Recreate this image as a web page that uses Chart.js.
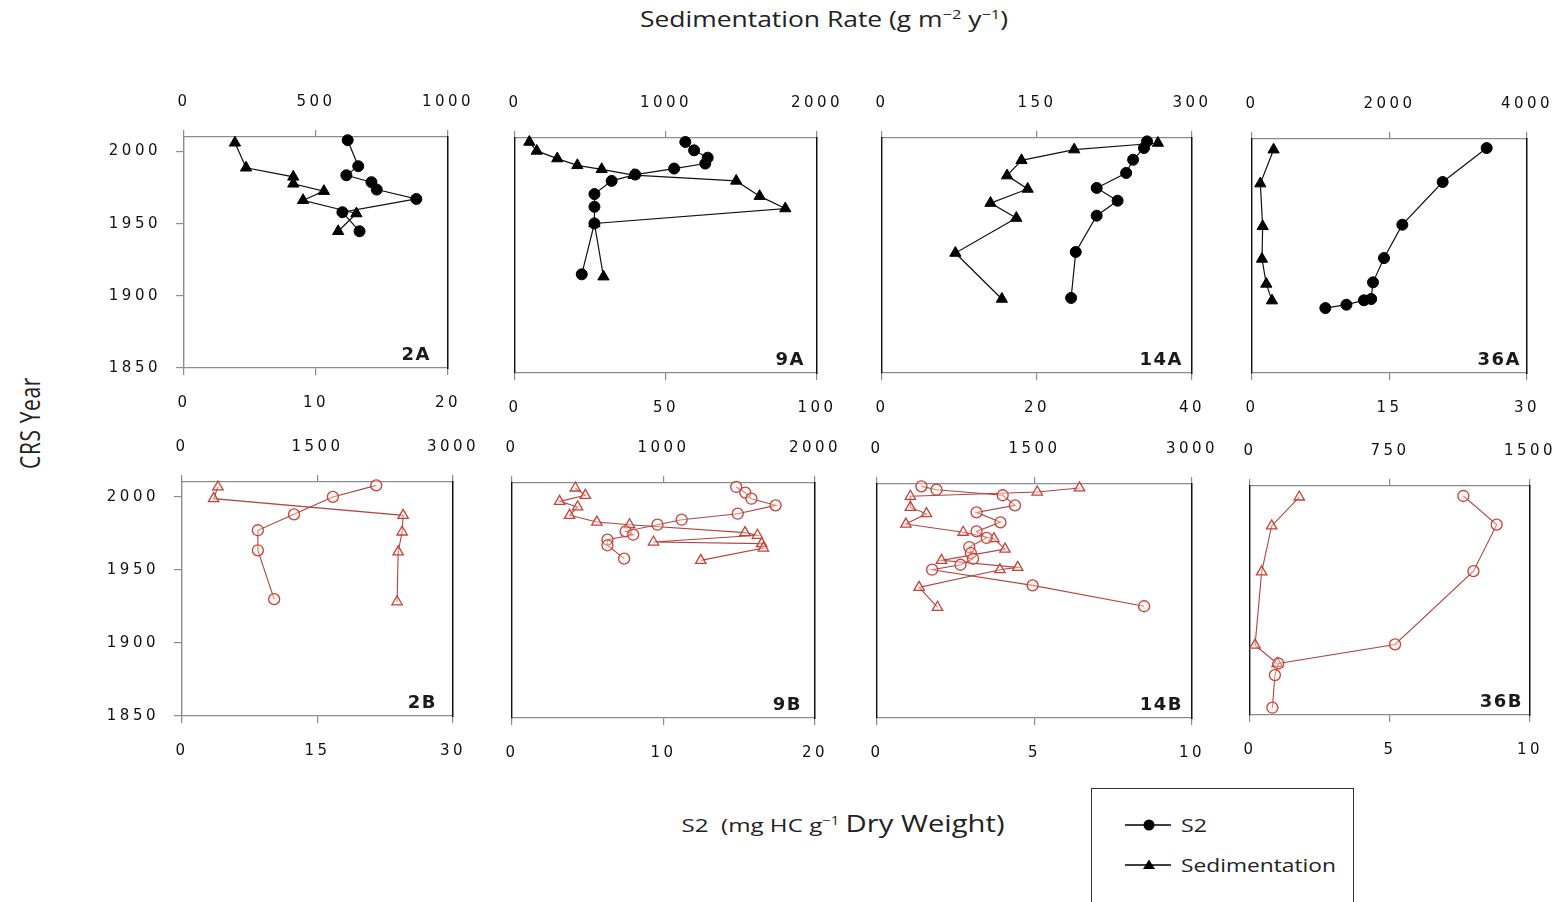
<!DOCTYPE html>
<html lang="en">
<head>
<meta charset="UTF-8">
<title>S2 and Sedimentation Rate by CRS Year</title>
<script src="https://cdn.jsdelivr.net/npm/chart.js@4.4.0/dist/chart.umd.min.js"></script>
<style>
  body { margin: 0; background: #fff; }
  #fig { position: relative; width: 1566px; height: 902px; overflow: hidden; background: #fff; }
  .ttl { position: absolute; white-space: nowrap; font-family: 'Open Sans', sans-serif; color: #222; line-height: 1; }
  .ttl sup { font-size: 0.62em; vertical-align: 0.6em; line-height: 0; }
  #sedTitle { left: 824px; top: 9px; font-size: 21px; transform: translateX(-50%); }
  #s2Title { left: 843px; top: 812px; font-size: 19px; transform: translateX(-50%); }
  #s2Title .big { font-size: 23px; }
  #yearTitle { left: 30px; top: 423px; font-size: 21px; letter-spacing: 0.6px; transform: translate(-50%, -50%) rotate(-90deg) scaleY(1.3); }
  #legend { position: absolute; left: 1091px; top: 788px; width: 261px; height: 140px; border: 1.5px solid #333; }
  #legend .item { position: absolute; left: 32px; height: 22px; display: flex; align-items: center; }
  #legend span { display: inline-block; transform-origin: left center; font-family: 'Open Sans', sans-serif; font-size: 19px; color: #222; margin-left: 9px; }
  canvas { position: absolute; }
</style>
</head>
<body>
<div id="fig">
  <div id="sedTitle" class="ttl" data-w="368" data-pre="translateX(-50%)">Sedimentation Rate (g m<sup>−2</sup> y<sup>−1</sup>)</div>
  <div id="yearTitle" class="ttl">CRS Year</div>
  <div id="s2Title" class="ttl" data-w="323" data-pre="translateX(-50%)">S2&nbsp; (mg HC g<sup>−1</sup> <span class="big">Dry Weight)</span></div>
  <div id="legend">
    <div class="item" style="top:25px">
      <svg width="48" height="16"><line x1="1" y1="8" x2="47" y2="8" stroke="#000" stroke-width="1.4"/><circle cx="25" cy="8" r="5.5" fill="#000"/></svg>
      <span data-w="26">S2</span>
    </div>
    <div class="item" style="top:65px">
      <svg width="48" height="16"><line x1="1" y1="8" x2="47" y2="8" stroke="#000" stroke-width="1.4"/><polygon points="25,2.5 31,12 19,12" fill="#000"/></svg>
      <span data-w="155">Sedimentation</span>
    </div>
  </div>
</div>

<script>
// ---- data: CRS year vs S2 (bottom axis) and sedimentation rate (top axis) ----
const yearTicks = [1850, 1900, 1950, 2000];
const YEAR_MIN = 1850, YEAR_MAX = 2010;

// core 2A
const s2Year_2A = [2007.8, 1989.8, 1983.5, 1978.7, 1973.6, 1967.1, 1957.9, 1944.7];
const s2_2A = [12.4, 13.2, 12.3, 14.2, 14.6, 17.6, 12.0, 13.3];
const sedYear_2A = [2006.0, 1988.7, 1982.4, 1977.6, 1972.5, 1966.2, 1957.0, 1944.7];
const sed_2A = [193, 235, 414, 414, 530, 451, 653, 584];
const s2Ticks_2A = [0, 10, 20];
const sedTicks_2A = [0, 500, 1000];

// core 9A
const s2Year_9A = [2007.3, 2001.6, 1996.6, 1992.6, 1989.2, 1985.1, 1980.8, 1971.8, 1963.2, 1951.8, 1917.2];
const s2_9A = [56.4, 59.3, 63.8, 63.0, 52.7, 39.8, 32.0, 26.3, 26.3, 26.3, 22.1];
const sedYear_9A = [2007.3, 2001.2, 1996.0, 1991.4, 1988.7, 1984.7, 1980.8, 1970.4, 1962.0, 1951.8, 1915.6];
const sed_9A = [95, 144, 280, 413, 574, 785, 1465, 1620, 1790, 526, 586];
const s2Ticks_9A = [0, 50, 100];
const sedTicks_9A = [0, 1000, 2000];

// core 14A
const s2Year_14A = [2007.7, 2003.2, 1995.2, 1986.2, 1976.0, 1967.3, 1957.1, 1932.4, 1901.1];
const s2_14A = [34.2, 33.8, 32.4, 31.5, 27.7, 30.4, 27.7, 25.0, 24.4];
const sedYear_14A = [2006.6, 2002.1, 1994.8, 1984.4, 1975.3, 1965.7, 1955.5, 1931.7, 1900.4];
const sed_14A = [267, 186, 135, 121, 141, 105, 130, 71, 116];
const s2Ticks_14A = [0, 20, 40];
const sedTicks_14A = [0, 150, 300];

// core 36A
const s2Year_36A = [2003.8, 1980.6, 1951.4, 1928.6, 1912.0, 1900.6, 1899.7, 1896.7, 1894.4];
const s2_36A = [25.6, 20.8, 16.4, 14.4, 13.2, 13.0, 12.2, 10.3, 8.0];
const sedYear_36A = [2002.7, 1979.5, 1950.3, 1928.0, 1910.9, 1899.5];
const sed_36A = [314, 121, 155, 145, 208, 290];
const s2Ticks_36A = [0, 15, 30];
const sedTicks_36A = [0, 2000, 4000];

// core 2B
const s2Year_2B = [2007.7, 1999.8, 1987.9, 1977.0, 1963.3, 1929.9];
const s2_2B = [21.5, 16.7, 12.4, 8.4, 8.4, 10.2];
const sedYear_2B = [2006.6, 1998.6, 1987.2, 1975.8, 1962.2, 1928.1];
const sed_2B = [398, 350, 2448, 2437, 2393, 2381];
const s2Ticks_2B = [0, 15, 30];
const sedTicks_2B = [0, 1500, 3000];

// core 9B
const s2Year_9B = [2007.3, 2003.4, 1999.3, 1994.8, 1989.1, 1985.0, 1981.6, 1977.1, 1974.8, 1971.4, 1967.6, 1958.5];
const s2_9B = [14.8, 15.4, 15.8, 17.4, 14.9, 11.2, 9.6, 7.5, 8.0, 6.3, 6.3, 7.4];
const sedYear_9B = [2006.6, 2001.6, 1997.5, 1993.7, 1988.0, 1983.4, 1981.6, 1976.2, 1974.4, 1969.8, 1968.7, 1965.7, 1957.3];
const sed_9B = [418, 484, 314, 433, 380, 560, 776, 1538, 1620, 934, 1648, 1659, 1246];
const s2Ticks_9B = [0, 10, 20];
const sedTicks_9B = [0, 1000, 2000];

// core 14B
const s2Year_14B = [2008.4, 2006.1, 2002.3, 1995.4, 1990.6, 1983.8, 1977.6, 1973.1, 1966.9, 1962.8, 1958.9, 1954.8, 1951.4, 1940.7, 1926.4];
const s2_14B = [1.41, 1.89, 3.99, 4.38, 3.16, 3.92, 3.16, 3.48, 2.93, 2.98, 3.05, 2.65, 1.75, 4.94, 8.48];
const sedYear_14B = [2007.3, 2004.5, 2001.6, 1994.0, 1989.7, 1982.6, 1977.0, 1972.6, 1965.5, 1957.8, 1953.0, 1951.4, 1939.3, 1925.7];
const sed_14B = [1928, 1526, 318, 318, 471, 275, 821, 1113, 1219, 614, 1340, 1171, 401, 576];
const s2Ticks_14B = [0, 5, 10];
const sedTicks_14B = [0, 1500, 3000];

// core 36B
const s2Year_36B = [2003.0, 1983.0, 1950.5, 1899.3, 1886.0, 1877.9, 1855.1];
const s2_36B = [7.62, 8.81, 7.98, 5.18, 1.01, 0.89, 0.80];
const sedYear_36B = [2002.3, 1982.1, 1950.0, 1898.8, 1886.0];
const sed_36B = [264, 116, 62.5, 27, 146];
const s2Ticks_36B = [0, 5, 10];
const sedTicks_36B = [0, 750, 1500];

// ---- layout ----
const fig = document.getElementById('fig');
const PAD = { left: 80, top: 50, right: 40, bottom: 50 };
const GREY = '#8c8c8c';
const TICK_FONT = { family: '"DejaVu Sans", Verdana, sans-serif', size: 15 };
const TICK_COLOR = '#111';

// stretch the html titles to their widths
document.querySelectorAll('[data-w]').forEach(el => {
  const w = el.getBoundingClientRect().width;
  el.style.transform = (el.dataset.pre || '') + ' scaleX(' + (el.dataset.w / w).toFixed(3) + ')';
});

// plot rectangles [left, top, right, bottom] in page pixels
const panels = [
  { tag: '2A',  rect: [184, 137, 448, 368],   tagGap: 17, row: 'A', first: true,  s2: s2_2A,  s2Year: s2Year_2A,  sed: sed_2A,  sedYear: sedYear_2A,  s2Ticks: s2Ticks_2A,  sedTicks: sedTicks_2A },
  { tag: '9A',  rect: [515, 138, 817, 373],   tagGap: 12, row: 'A', first: false, s2: s2_9A,  s2Year: s2Year_9A,  sed: sed_9A,  sedYear: sedYear_9A,  s2Ticks: s2Ticks_9A,  sedTicks: sedTicks_9A },
  { tag: '14A', rect: [882, 138, 1192, 373],  tagGap: 9,  row: 'A', first: false, s2: s2_14A, s2Year: s2Year_14A, sed: sed_14A, sedYear: sedYear_14A, s2Ticks: s2Ticks_14A, sedTicks: sedTicks_14A },
  { tag: '36A', rect: [1252, 139, 1527, 373], tagGap: 6,  row: 'A', first: false, s2: s2_36A, s2Year: s2Year_36A, sed: sed_36A, sedYear: sedYear_36A, s2Ticks: s2Ticks_36A, sedTicks: sedTicks_36A },
  { tag: '2B',  rect: [182, 482, 453, 716],   tagGap: 16, row: 'B', first: true,  s2: s2_2B,  s2Year: s2Year_2B,  sed: sed_2B,  sedYear: sedYear_2B,  s2Ticks: s2Ticks_2B,  sedTicks: sedTicks_2B },
  { tag: '9B',  rect: [512, 483, 815, 718],   tagGap: 13, row: 'B', first: false, s2: s2_9B,  s2Year: s2Year_9B,  sed: sed_9B,  sedYear: sedYear_9B,  s2Ticks: s2Ticks_9B,  sedTicks: sedTicks_9B },
  { tag: '14B', rect: [877, 484, 1192, 718],  tagGap: 9,  row: 'B', first: false, s2: s2_14B, s2Year: s2Year_14B, sed: sed_14B, sedYear: sedYear_14B, s2Ticks: s2Ticks_14B, sedTicks: sedTicks_14B },
  { tag: '36B', rect: [1250, 486, 1530, 715], tagGap: 7,  row: 'B', first: false, s2: s2_36B, s2Year: s2Year_36B, sed: sed_36B, sedYear: sedYear_36B, s2Ticks: s2Ticks_36B, sedTicks: sedTicks_36B }
];

// row A: solid black markers; row B: open red markers
const rowStyle = {
  A: { line: '#111', lineWidth: 1.2,
       s2:  { style: 'circle',   radius: 5.5, fill: '#000', stroke: '#000', border: 1 },
       sed: { style: 'triangle', radius: 6.5, fill: '#000', stroke: '#000', border: 1 } },
  B: { line: '#b0463f', lineWidth: 1.1,
       s2:  { style: 'circle',   radius: 5.5, fill: 'rgba(255,235,230,0.4)', stroke: '#c2443a', border: 1.3 },
       sed: { style: 'triangle', radius: 6,   fill: 'rgba(255,235,230,0.4)', stroke: '#c2443a', border: 1.3 } }
};

// wide, letter-spaced tick labels
const wideTicks = {
  id: 'wideTicks',
  beforeDraw(chart) { chart.ctx.letterSpacing = '3.5px'; }
};

// panel name in the lower right corner of the plot
const panelTag = {
  id: 'panelTag',
  afterDraw(chart, args, opts) {
    const { ctx, chartArea } = chart;
    ctx.save();
    ctx.letterSpacing = '1.5px';
    ctx.font = 'bold 18px "DejaVu Sans", sans-serif';
    ctx.fillStyle = '#1a1a1a';
    ctx.textAlign = 'right';
    ctx.textBaseline = 'alphabetic';
    ctx.fillText(opts.text, chartArea.right - opts.gap, chartArea.bottom - 8);
    ctx.restore();
  }
};

function xAxis(position, ticks, size) {
  return {
    type: 'linear', position,
    min: ticks[0], max: ticks[ticks.length - 1],
    afterBuildTicks: s => { s.ticks = ticks.map(v => ({ value: v })); },
    afterFit: s => { s.height = size; },
    ticks: { font: TICK_FONT, color: TICK_COLOR, padding: 19, maxRotation: 0, autoSkip: false, callback: v => String(v) },
    grid: { drawOnChartArea: false, drawTicks: true, tickLength: 7, color: GREY, lineWidth: 1.2 },
    border: { color: GREY, width: 1.3 }
  };
}

function series(xs, ys, st, m, axis, label) {
  return {
    label, xAxisID: axis, yAxisID: 'y',
    data: xs.map((v, i) => ({ x: v, y: ys[i] })),
    showLine: true, borderColor: st.line, borderWidth: st.lineWidth,
    pointStyle: m.style, pointRadius: m.radius,
    pointBackgroundColor: m.fill, pointBorderColor: m.stroke, pointBorderWidth: m.border,
    clip: false
  };
}

function buildPanel(p) {
  const [l, t, r, b] = p.rect;
  const w = r - l + PAD.left + PAD.right;
  const h = b - t + PAD.top + PAD.bottom;
  const canvas = document.createElement('canvas');
  canvas.width = w;
  canvas.height = h;
  canvas.style.left = (l - PAD.left) + 'px';
  canvas.style.top = (t - PAD.top) + 'px';
  canvas.style.width = w + 'px';
  canvas.style.height = h + 'px';
  fig.appendChild(canvas);

  const st = rowStyle[p.row];
  new Chart(canvas, {
    type: 'scatter',
    data: {
      datasets: [
        series(p.s2, p.s2Year, st, st.s2, 'x', 'S2'),
        series(p.sed, p.sedYear, st, st.sed, 'xTop', 'Sedimentation')
      ]
    },
    options: {
      responsive: false,
      animation: false,
      events: [],
      layout: { padding: 0, autoPadding: false },
      plugins: {
        legend: { display: false },
        tooltip: { enabled: false },
        panelTag: { text: p.tag, gap: p.tagGap }
      },
      scales: {
        x: xAxis('bottom', p.s2Ticks, PAD.bottom),
        xTop: xAxis('top', p.sedTicks, PAD.top),
        y: {
          type: 'linear', position: 'left', min: YEAR_MIN, max: YEAR_MAX,
          afterBuildTicks: s => { s.ticks = yearTicks.map(v => ({ value: v })); },
          afterFit: s => { s.width = PAD.left; },
          ticks: { display: p.first, font: TICK_FONT, color: TICK_COLOR, padding: 15, callback: v => String(v) },
          grid: { drawOnChartArea: false, drawTicks: p.first, tickLength: 8, color: GREY, lineWidth: 1.2 },
          border: { color: p.first ? GREY : '#111', width: 1.4 }
        },
        yEdge: {
          type: 'linear', position: 'right', min: YEAR_MIN, max: YEAR_MAX,
          afterFit: s => { s.width = PAD.right; },
          ticks: { display: false },
          grid: { drawOnChartArea: false, drawTicks: false },
          border: { color: '#111', width: 1.5 }
        }
      }
    },
    plugins: [wideTicks, panelTag]
  });
}

panels.forEach(buildPanel);
</script>
</body>
</html>
